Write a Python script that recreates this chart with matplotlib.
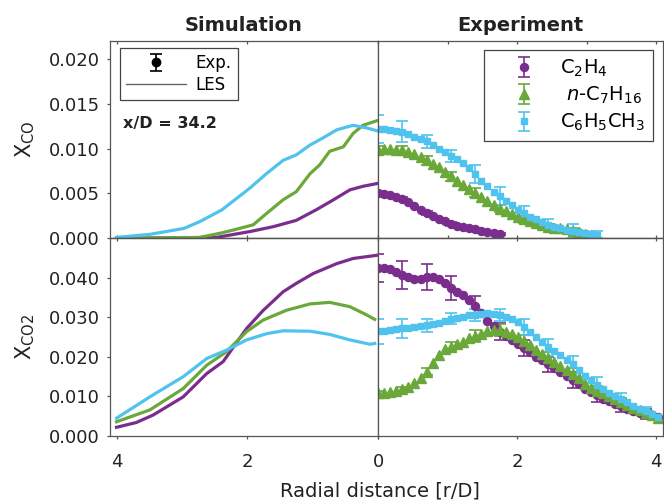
import numpy as np
import matplotlib.pyplot as plt
from matplotlib.lines import Line2D

# ---------------- colours ----------------
C_ETH = '#7B2D8E'   # C2H4
C_HEP = '#6BA83A'   # n-C7H16
C_TOL = '#4FC3EE'   # C6H5CH3
SPINE = '#555555'
TEXT = '#222222'

# ---------------- LES profiles (left half, r/D) ----------------
les_co_tol_r = [4.0, 3.49, 2.97, 2.73, 2.39, 1.96, 1.70, 1.45, 1.25, 1.04, 0.84, 0.63, 0.38, 0.17, 0.02]
les_co_tol = [0.0001, 0.00044, 0.0011, 0.00185, 0.00316, 0.0056, 0.00725, 0.0087, 0.0093, 0.0104,
              0.0112, 0.0121, 0.0126, 0.0123, 0.0120]
les_co_hep_r = [4.0, 2.73, 2.39, 2.21, 1.91, 1.70, 1.45, 1.25, 1.04, 0.89, 0.74, 0.53, 0.38, 0.23, 0.02]
les_co_hep = [0.0, 0.0001, 0.0006, 0.00093, 0.0015, 0.0028, 0.0043, 0.0052, 0.0072, 0.0082,
              0.0097, 0.0102, 0.0117, 0.0126, 0.0131]
les_co_eth_r = [4.0, 2.47, 1.96, 1.60, 1.25, 0.94, 0.68, 0.43, 0.23, 0.02]
les_co_eth = [0.0, 0.0001, 0.00075, 0.0013, 0.0020, 0.0032, 0.0043, 0.0054, 0.0058, 0.0061]

les_co2_eth_r = [4.0, 3.70, 3.44, 2.98, 2.62, 2.37, 2.01, 1.76, 1.45, 1.25, 0.99, 0.63, 0.38, 0.02]
les_co2_eth = [0.0022, 0.0034, 0.0053, 0.0099, 0.0158, 0.0188, 0.0272, 0.0317, 0.0365, 0.0386,
               0.0411, 0.0436, 0.0449, 0.0457]
les_co2_hep_r = [4.0, 3.49, 2.98, 2.62, 2.32, 2.01, 1.76, 1.40, 1.04, 0.74, 0.43, 0.17, 0.05]
les_co2_hep = [0.0036, 0.0066, 0.0120, 0.0179, 0.0213, 0.0264, 0.0293, 0.0318, 0.0334, 0.0338,
               0.0327, 0.0306, 0.0295]
les_co2_tol_r = [4.0, 3.49, 2.98, 2.62, 2.32, 2.01, 1.70, 1.45, 1.04, 0.74, 0.43, 0.12, 0.05]
les_co2_tol = [0.0045, 0.0099, 0.0150, 0.0196, 0.0217, 0.0243, 0.0259, 0.0266, 0.0265, 0.0257,
               0.0243, 0.0232, 0.0234]

# ---------------- measurements (right half) ----------------
DR = 0.0875          # radial step of the measurement grid, r/D
ERR_EVERY = 4        # an error bar on every 4th point

exp_co_eth = [0.0050, 0.00495, 0.0048, 0.0046, 0.0044, 0.0040, 0.0036, 0.0032, 0.0028, 0.0025,
              0.0021, 0.0019, 0.0016, 0.0014, 0.0013, 0.0011, 0.0010, 0.0008, 0.0007, 0.0006,
              0.0005]
exp_co_hep = [0.0099, 0.0100, 0.0100, 0.0099, 0.0098, 0.0096, 0.0094, 0.0091, 0.0087, 0.0083,
              0.0079, 0.0074, 0.0069, 0.0064, 0.0059, 0.0055, 0.0051, 0.0046, 0.0042, 0.0037,
              0.0033, 0.0030, 0.0027, 0.0024, 0.0021, 0.0019, 0.0017, 0.0015, 0.0013, 0.0012,
              0.0011, 0.0010, 0.0008, 0.0007, 0.0005, 0.0004]
exp_co_tol = [0.0122, 0.0122, 0.0121, 0.0120, 0.0119, 0.0116, 0.0113, 0.0111, 0.0108, 0.0104,
              0.0100, 0.0096, 0.0092, 0.0088, 0.0084, 0.0078, 0.0072, 0.0064, 0.0058, 0.0052,
              0.0047, 0.0042, 0.0037, 0.0032, 0.0028, 0.0024, 0.0021, 0.0018, 0.0015, 0.0013,
              0.0011, 0.0009, 0.0008, 0.0007, 0.0006, 0.0005, 0.0004]
err_co_eth = [0.0003, 0.0002, 0.0002, 0.0002, 0.0001, 0.0001]
err_co_hep = [0.0004, 0.0005, 0.0005, 0.0005, 0.0005, 0.0004, 0.0004, 0.0003, 0.0003]
err_co_tol = [0.0016, 0.0012, 0.0007, 0.0007, 0.0010, 0.0010, 0.0008, 0.0006, 0.0008, 0.0004]

exp_co2_eth = [0.0425, 0.0425, 0.0422, 0.0415, 0.0408, 0.0401, 0.0396, 0.0396, 0.0401, 0.0403,
               0.0397, 0.0386, 0.0375, 0.0364, 0.0356, 0.0345, 0.0329, 0.0310, 0.0291, 0.0277,
               0.0264, 0.0253, 0.0243, 0.0233, 0.0223, 0.0212, 0.0201, 0.0191, 0.0181, 0.0171,
               0.0161, 0.0151, 0.0141, 0.0131, 0.0118, 0.0111, 0.0103, 0.0094, 0.0088, 0.0082,
               0.0076, 0.0069, 0.0063, 0.0059, 0.0056, 0.0053, 0.0047]
exp_co2_hep = [0.0108, 0.0109, 0.0111, 0.0115, 0.0119, 0.0125, 0.0134, 0.0147, 0.0163, 0.0184,
               0.0206, 0.0220, 0.0226, 0.0233, 0.0238, 0.0248, 0.0253, 0.0259, 0.0265, 0.0268,
               0.0268, 0.0263, 0.0258, 0.0250, 0.0240, 0.0229, 0.0218, 0.0208, 0.0198, 0.0188,
               0.0178, 0.0167, 0.0158, 0.0146, 0.0132, 0.0122, 0.0114, 0.0108, 0.0100, 0.0093,
               0.0085, 0.0078, 0.0071, 0.0065, 0.0059, 0.0054, 0.0046]
exp_co2_tol = [0.0265, 0.0266, 0.0268, 0.0270, 0.0272, 0.0274, 0.0276, 0.0278, 0.0280, 0.0283,
               0.0287, 0.0292, 0.0296, 0.0299, 0.0302, 0.0305, 0.0307, 0.0309, 0.0310, 0.0309,
               0.0306, 0.0302, 0.0297, 0.0288, 0.0276, 0.0263, 0.0250, 0.0237, 0.0224, 0.0214,
               0.0204, 0.0193, 0.0181, 0.0168, 0.0153, 0.0141, 0.0130, 0.0119, 0.0110, 0.0101,
               0.0093, 0.0085, 0.0077, 0.0069, 0.0062, 0.0055, 0.0047]
err_co2_eth = [0.0036, 0.0035, 0.0033, 0.0030, 0.0026, 0.0022, 0.0020, 0.0020, 0.0020, 0.0018, 0.0015, 0.0012]
err_co2_hep = [0.0005, 0.0006, 0.0008, 0.0012, 0.0015, 0.0015, 0.0015, 0.0015, 0.0013, 0.0012, 0.0010, 0.0008]
err_co2_tol = [0.0032, 0.0025, 0.0017, 0.0014, 0.0015, 0.0015, 0.0021, 0.0022, 0.0022, 0.0020, 0.0016, 0.0012]

species = ['C$_2$H$_4$', ' $n$-C$_7$H$_{16}$', 'C$_6$H$_5$CH$_3$']

plt.rcParams['font.family'] = ['DejaVu Sans']
plt.rcParams['mathtext.fontset'] = 'dejavusans'

W, H = 664, 500
fig = plt.figure(figsize=(W / 100, H / 100), dpi=100)

x_left, x_mid, x_right = 110 / W, 378 / W, 663 / W
y_top0, y_top1 = 1 - 238.3 / H, 1 - 41 / H
y_bot0, y_bot1 = 1 - 436 / H, 1 - 238.3 / H

ax_tl = fig.add_axes([x_left, y_top0, x_mid - x_left, y_top1 - y_top0])
ax_tr = fig.add_axes([x_mid, y_top0, x_right - x_mid, y_top1 - y_top0])
ax_bl = fig.add_axes([x_left, y_bot0, x_mid - x_left, y_bot1 - y_bot0])
ax_br = fig.add_axes([x_mid, y_bot0, x_right - x_mid, y_bot1 - y_bot0])

RMAX = 4.1
for ax in (ax_tl, ax_bl):
    ax.set_xlim(RMAX, 0)
for ax in (ax_tr, ax_br):
    ax.set_xlim(0, RMAX)
for ax in (ax_tl, ax_tr):
    ax.set_ylim(0, 0.022)
for ax in (ax_bl, ax_br):
    ax.set_ylim(0, 0.05)

LW = 2.3
# simulation curves
ax_tl.plot(les_co_eth_r, les_co_eth, color=C_ETH, lw=LW)
ax_tl.plot(les_co_hep_r, les_co_hep, color=C_HEP, lw=LW)
ax_tl.plot(les_co_tol_r, les_co_tol, color=C_TOL, lw=LW)
ax_bl.plot(les_co2_eth_r, les_co2_eth, color=C_ETH, lw=LW)
ax_bl.plot(les_co2_hep_r, les_co2_hep, color=C_HEP, lw=LW)
ax_bl.plot(les_co2_tol_r, les_co2_tol, color=C_TOL, lw=LW)

EB = dict(elinewidth=1.2, capsize=4.3, capthick=1.2)


def measured(ax, vals, errs, color, marker, ms):
    vals = np.asarray(vals)
    r = np.arange(len(vals)) * DR
    yerr = np.zeros(len(vals))
    yerr[::ERR_EVERY] = errs
    ax.errorbar(r, vals, yerr=yerr, errorevery=ERR_EVERY, fmt=marker, ms=ms,
                color=color, ecolor=color, **EB)


styles = [(C_ETH, 'o', 5.8), (C_HEP, '^', 6.8), (C_TOL, 's', 5.0)]
for (vals, errs), (col, mk, ms) in zip(
        [(exp_co_eth, err_co_eth), (exp_co_hep, err_co_hep), (exp_co_tol, err_co_tol)], styles):
    measured(ax_tr, vals, errs, col, mk, ms)
for (vals, errs), (col, mk, ms) in zip(
        [(exp_co2_eth, err_co2_eth), (exp_co2_hep, err_co2_hep), (exp_co2_tol, err_co2_tol)], styles):
    measured(ax_br, vals, errs, col, mk, ms)

# ---------------- axes styling ----------------
for ax in (ax_tl, ax_tr, ax_bl, ax_br):
    for sp in ax.spines.values():
        sp.set_color(SPINE)
        sp.set_linewidth(0.9)
    ax.tick_params(colors=SPINE, labelcolor=TEXT, width=0.9, length=2.5, labelsize=13)

for ax in (ax_tr, ax_br):
    ax.tick_params(axis='y', left=False, labelleft=False)

for ax in (ax_tl, ax_bl):
    ax.tick_params(axis='y', direction='out', pad=5)

ax_tl.set_yticks([0, 0.005, 0.010, 0.015, 0.020])
ax_tl.set_yticklabels(['0.000', '0.005', '0.010', '0.015', '0.020'])
ax_bl.set_yticks([0, 0.010, 0.020, 0.030, 0.040])
ax_bl.set_yticklabels(['0.000', '0.010', '0.020', '0.030', '0.040'])

# top row: inward ticks on both horizontal edges, no labels
ax_tl.set_xticks([4, 2, 0])
ax_tr.set_xticks([0, 1, 2, 3, 4])
for ax in (ax_tl, ax_tr):
    ax.tick_params(axis='x', direction='in', top=True, bottom=True, labelbottom=False)

# bottom row: outward labelled ticks below, inward ticks along the top edge
ax_bl.set_xticks([4, 2, 0])
ax_bl.set_xticklabels(['4', '2', ''])
ax_br.set_xticks([0, 2, 4])
ax_br.set_xticklabels(['0', '2', '4'])
for ax in (ax_bl, ax_br):
    ax.tick_params(axis='x', direction='out', pad=10)
    sec = ax.secondary_xaxis('top')
    sec.set_xticks(ax.get_xticks())
    sec.tick_params(direction='in', length=2.5, width=0.9, colors=SPINE, labeltop=False)
    sec.spines['top'].set_color(SPINE)
    sec.spines['top'].set_linewidth(0.9)

# ---------------- labels ----------------
ax_tl.set_title('Simulation', fontsize=14, fontweight='bold', pad=7, color=TEXT)
ax_tr.set_title('Experiment', fontsize=14, fontweight='bold', pad=7, color=TEXT)
ax_tl.set_ylabel(r'X$_{\mathrm{CO}}$', fontsize=15, labelpad=8, color=TEXT)
ax_bl.set_ylabel(r'X$_{\mathrm{CO2}}$', fontsize=15, labelpad=8, color=TEXT)
fig.text(380 / W, 1 - 496.5 / H, 'Radial distance [r/D]', ha='center', va='baseline',
         fontsize=14, color=TEXT)
ax_tl.text(0.0485, 0.583, 'x/D = 34.2', transform=ax_tl.transAxes, ha='left', va='center',
           fontsize=11.5, fontweight='bold', color=TEXT)

# ---------------- legends ----------------
exp_proxy = ax_tl.errorbar([np.nan], [np.nan], yerr=[0.001], fmt='o', ms=6, color='black', **EB)
les_proxy = Line2D([], [], color='#666666', lw=1.0)
leg1 = ax_tl.legend([exp_proxy, les_proxy], ['Exp.', 'LES'], loc='upper left',
                    bbox_to_anchor=((120 - 110) / 268, (238.3 - 48.3) / 197.3), borderaxespad=0,
                    fontsize=12, frameon=True, fancybox=False, framealpha=1, edgecolor='#444444',
                    handlelength=3.6, handletextpad=0.6, labelspacing=0.25, borderpad=0.35)
leg1.get_frame().set_linewidth(0.9)

species_handles = [ax_tr.errorbar([np.nan], [np.nan], yerr=[0.001], fmt=mk, ms=ms, color=col, **EB)
                   for col, mk, ms in styles]
leg2 = ax_tr.legend(species_handles, species, loc='upper right',
                    bbox_to_anchor=((653 - 378) / 285, (238.3 - 50) / 197.3), borderaxespad=0,
                    fontsize=14, frameon=True, fancybox=False, framealpha=1, edgecolor='#444444',
                    handlelength=3.3, handletextpad=0.2, labelspacing=0.3, borderpad=0.4)
leg2.get_frame().set_linewidth(0.9)

fig.savefig('out.png', dpi=100)
